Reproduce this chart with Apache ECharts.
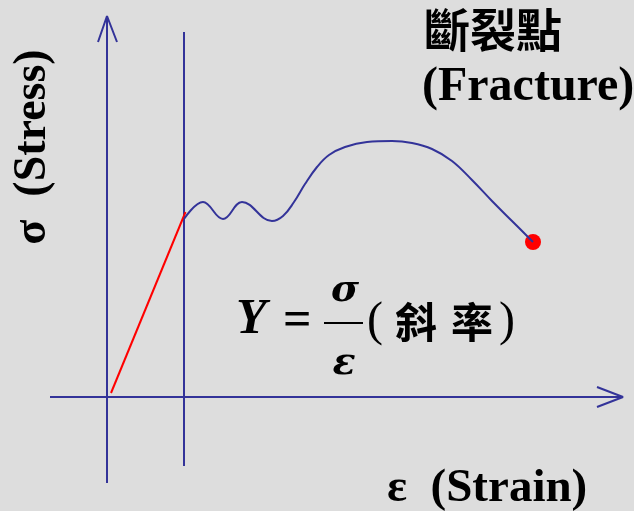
<!DOCTYPE html>
<html>
<head>
<meta charset="utf-8">
<script src="https://cdn.jsdelivr.net/npm/echarts@6/dist/echarts.min.js"></script>
<style>
    html, body { margin: 0; padding: 0; background: #dddddd; }
    #main { width: 634px; height: 511px; }
</style>
</head>
<body>
<div id="main"></div>
<script>
// coordinates: strain (x) / stress (y), origin at the axes crossing
const stressAxis = [[0, -86], [0, 381]];
const stressArrow = [[-9, 355], [0, 381], [10, 355]];
const strainAxis = [[-57, 0], [516, 0]];
const strainArrow = [[490, 10], [516, 0], [490, -10]];
const yieldLine = [[77, -69], [77, 365]];
const elastic = [[4, 4], [78.5, 185]];
const plastic = [
    [77, 178], [96, 195], [116, 178], [135, 195], [165, 176],
    [176, 181], [187, 195], [198, 213], [210, 230], [222, 242], [238, 250],
    [260, 255], [285, 256], [305, 254], [325, 248], [345, 236], [365, 217],
    [385, 196], [405, 176], [426, 155],
];
const fracture = [[426, 155]];

const blue = '#333399';
const red = '#ff0000';
const serif = '"Liberation Serif", "Times New Roman", serif';
const greek = '"DejaVu Serif", serif';
const cjk = '"Noto Sans CJK TC", "Noto Sans CJK SC", sans-serif';

function seg(data, color, extra) {
    return Object.assign({
        type: 'line',
        data: data,
        symbol: 'none',
        silent: true,
        lineStyle: { color: color, width: 2 },
    }, extra || {});
}

function txt(text, x, y, font, align, extra) {
    return Object.assign({
        type: 'text',
        x: x,
        y: y,
        silent: true,
        style: {
            text: text,
            x: 0,
            y: 0,
            font: font,
            fill: '#000',
            align: align || 'left',
            verticalAlign: 'middle',
        },
    }, extra || {});
}

const chart = echarts.init(document.getElementById('main'));
chart.setOption({
    backgroundColor: '#dddddd',
    animation: false,
    grid: { left: 0, right: 0, top: 0, bottom: 0 },
    xAxis: { type: 'value', min: -107, max: 527, show: false },
    yAxis: { type: 'value', min: -114, max: 397, show: false },
    series: [
        seg(stressAxis, blue),
        seg(stressArrow, blue),
        seg(strainAxis, blue),
        seg(strainArrow, blue),
        seg(yieldLine, blue),
        seg(elastic, red),
        seg(plastic, blue, { smooth: 0.4 }),
        {
            type: 'scatter',
            data: fracture,
            symbolSize: 16,
            silent: true,
            itemStyle: { color: red, opacity: 1 },
        },
    ],
    graphic: [
        txt('σ  (Stress)', 33, 147, 'bold 46px ' + serif, 'center', { rotation: Math.PI / 2 }),
        txt('斷裂點', 424, 30, 'bold 46px ' + cjk),
        txt('(Fracture)', 422, 88, 'bold 48px ' + serif),
        txt('ε  (Strain)', 387, 489, 'bold 47px ' + serif),
        // Y = σ/ε (斜率)
        txt('Y', 236, 320, 'italic bold 50px ' + serif),
        txt('=', 283, 322, 'bold 50px ' + serif),
        txt('σ', 345, 291, 'italic bold 38px ' + greek, 'center'),
        {
            type: 'line',
            silent: true,
            shape: { x1: 324, y1: 323, x2: 363, y2: 323 },
            style: { stroke: '#000', lineWidth: 2 },
        },
        txt('ε', 344, 364, 'italic bold 38px ' + greek, 'center'),
        txt('(', 375, 322, '48px ' + serif, 'center'),
        txt('斜', 416, 322, 'bold 42px ' + cjk, 'center'),
        txt('率', 472, 322, 'bold 42px ' + cjk, 'center'),
        txt(')', 507, 322, '48px ' + serif, 'center'),
    ],
});
</script>
</body>
</html>
